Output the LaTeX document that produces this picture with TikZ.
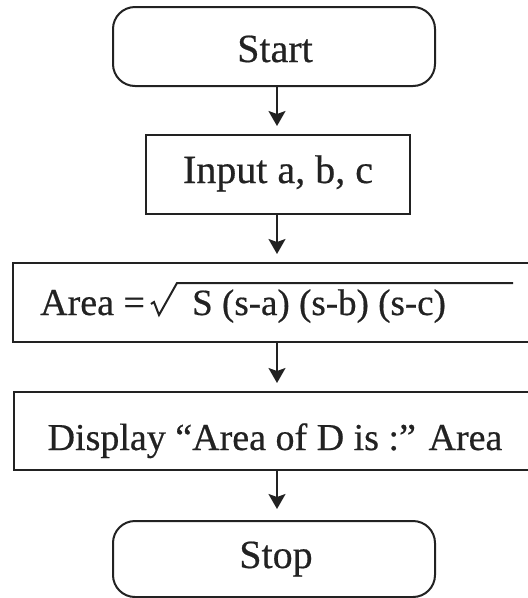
\documentclass[tikz,border=0pt]{standalone}
\usepackage{fontspec}
\setmainfont{Liberation Serif}
\newfontfamily\lblfont{Liberation Serif}[FakeBold=0.5]
\usetikzlibrary{arrows.meta}
\definecolor{ink}{HTML}{222222}
\begin{document}
\begin{tikzpicture}[x=1pt,y=-1pt,
  box/.style={draw=ink, line width=2pt, inner sep=0pt},
  term/.style={box, rounded corners=22pt},
  lbl/.style={font=\lblfont\fontsize{38}{40}\selectfont, text=ink, anchor=base, inner sep=0pt},
  big/.style={font=\lblfont\fontsize{40}{42}\selectfont},
  arr/.style={draw=ink, line width=2pt, shorten >=8pt, -{Stealth[length=15pt,width=17pt,inset=3pt]}}]
\useasboundingbox (0,0) rectangle (528,598);
\clip (0,0) rectangle (528,598);
% boxes
\node[term, minimum width=322pt, minimum height=79pt] (start) at (274,46.5) {};
\node[box, minimum width=264pt, minimum height=79pt] (input) at (278,174.5) {};
\node[box, minimum width=532pt, minimum height=79pt] (area) at (279,302.5) {};
\node[box, minimum width=531pt, minimum height=78pt] (display) at (279.5,431) {};
\node[term, minimum width=322pt, minimum height=76pt] (stop) at (274,559) {};
% texts
\node[lbl, big] (tstart) at (275,62) {Start};
\node[lbl, big] (tinput) at (278,183) {Input a, b, c};
\node[lbl, anchor=base west] (tarea) at (40,315) {Area =};
\node[lbl, anchor=base west, font=\lblfont\fontsize{37}{40}\selectfont] (tprod) at (192,315) {S (s-a) (s-b) (s-c)};
\node[lbl] (tdisp) at (275,450) {Display “Area of D is :” Area};
\node[lbl, big] (tstop) at (276,568) {Stop};
% radical
\draw[ink, line width=2pt, line join=miter] (151,304) -- (154,302) -- (159,315) -- (177,283) -- (513,283);
% arrows
\coordinate (ax) at (277,0);
\draw[arr] (start.south -| ax) -- (input.north -| ax);
\draw[arr] (input.south -| ax) -- (area.north -| ax);
\draw[arr] (area.south -| ax) -- (display.north -| ax);
\draw[arr, shorten >=11pt] (display.south -| ax) -- (stop.north -| ax);
\end{tikzpicture}
\end{document}
